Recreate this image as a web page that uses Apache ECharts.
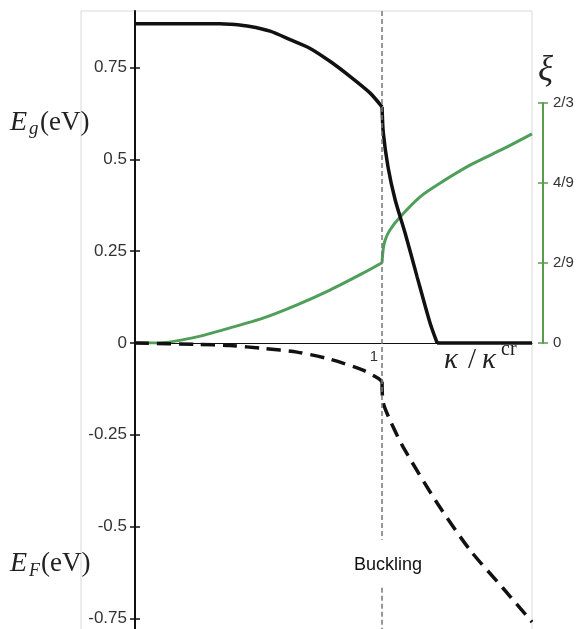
<!DOCTYPE html>
<html>
<head>
<meta charset="utf-8">
<script src="https://cdn.jsdelivr.net/npm/echarts@6/dist/echarts.min.js"></script>
<style>html,body{margin:0;padding:0;background:#fff;}#c{width:582px;height:629px;}</style>
</head>
<body>
<div id="c"></div>
<script>
// ---- data ----
var kappaEg = [0, 0.2, 0.344, 0.385, 0.466, 0.547, 0.628, 0.709, 0.789, 0.870, 0.951, 1.0, 1.005, 1.024, 1.053, 1.093, 1.142, 1.194, 1.223, 1.607];
var eg      = [0.8695, 0.8695, 0.8695, 0.868, 0.862, 0.849, 0.826, 0.802, 0.767, 0.726, 0.681, 0.643, 0.573, 0.480, 0.390, 0.300, 0.180, 0.055, 0, 0];

var kappaEf = [0, 0.251, 0.385, 0.518, 0.656, 0.789, 0.923, 0.984, 1.0, 1.004, 1.032, 1.085, 1.223, 1.356, 1.49, 1.607];
var ef      = [0, -0.004, -0.007, -0.015, -0.025, -0.044, -0.074, -0.096, -0.105, -0.161, -0.21, -0.283, -0.436, -0.564, -0.668, -0.760];

var kappaXi = [0, 0.113, 0.251, 0.385, 0.518, 0.656, 0.789, 0.923, 1.0, 1.004, 1.012, 1.032, 1.073, 1.154, 1.223, 1.356, 1.49, 1.607];
var xi      = [0, 0.001, 0.017, 0.042, 0.069, 0.106, 0.147, 0.194, 0.223, 0.257, 0.285, 0.314, 0.35, 0.406, 0.439, 0.494, 0.539, 0.581];

var leftTicks = [-0.75, -0.5, -0.25, 0, 0.25, 0.5, 0.75];
var xTicks = [1];
var xiTicks = [0, 2/9, 4/9, 2/3];
var xiTickLabels = ['0', '2/9', '4/9', '2/3'];
var bucklingKappa = 1;
var gapClosedKappa = 1.223;

function seg(ks, vs, from, to) {
  var out = [];
  for (var i = 0; i < ks.length; i++) if (ks[i] >= from - 1e-9 && ks[i] <= to + 1e-9) out.push([ks[i], vs[i]]);
  return out;
}

var YMIN = -0.779, YMAX = 0.904, XMIN = 0, XMAX = 1.607;
var GREEN_LINE = '#4f9f5a', GREEN_AXIS = '#5a9a4c';
var SERIF = '"Liberation Serif", "DejaVu Serif", serif';
var SANS = '"Liberation Sans", Arial, sans-serif';
var GRID_W = 582 - 50 - 135;

function lineSeries(data, xi, yi, style, z, extra) {
  var s = {type: 'line', xAxisIndex: xi, yAxisIndex: yi, data: data, showSymbol: false, symbol: 'none',
           smooth: 0.25, lineStyle: style, z: z};
  if (extra) for (var k in extra) s[k] = extra[k];
  return s;
}

var blackSolid = {color: '#111', width: 3.5};
var blackDash = {color: '#111', width: 3.5, type: [14, 8]};
var greenStyle = {color: GREEN_LINE, width: 3};

var chart = echarts.init(document.getElementById('c'), null, {renderer: 'canvas'});
chart.setOption({
  animation: false,
  backgroundColor: '#fff',
  grid: [
    {left: 135, right: 50, top: 11, bottom: 0, containLabel: false, outerBoundsMode: 'none'},
    {left: 135, right: 50, top: 103, height: 240, containLabel: false, outerBoundsMode: 'none'}
  ],
  xAxis: [
    {type: 'value', gridIndex: 0, min: XMIN, max: XMAX, show: false},
    {type: 'value', gridIndex: 1, min: XMIN, max: XMAX, position: 'bottom',
     axisLine: {show: true, onZero: false, lineStyle: {color: '#111', width: 1}},
     axisTick: {show: false}, splitLine: {show: false},
     axisLabel: {show: true, customValues: xTicks, color: '#333', fontFamily: SANS, fontSize: 15,
                 align: 'right', padding: [0, 4, 0, 0], margin: 6}}
  ],
  yAxis: [
    {type: 'value', gridIndex: 0, min: YMIN, max: YMAX, position: 'left',
     axisLine: {show: true, onZero: false, lineStyle: {color: '#111', width: 2}},
     axisTick: {show: true, customValues: leftTicks, length: 5, inside: false, lineStyle: {color: '#111', width: 1.5}},
     axisLabel: {show: true, customValues: leftTicks, color: '#333', fontFamily: SANS, fontSize: 17, margin: 8},
     splitLine: {show: false}},
    {type: 'value', gridIndex: 0, min: YMIN, max: YMAX, position: 'right', offset: -GRID_W,
     axisLine: {show: false, onZero: false},
     axisTick: {show: true, customValues: leftTicks, length: 5, inside: false, lineStyle: {color: '#111', width: 1.5}},
     axisLabel: {show: false}, splitLine: {show: false}},
    {type: 'value', gridIndex: 1, min: 0, max: 2/3, position: 'right', offset: 11,
     axisLine: {show: true, onZero: false, lineStyle: {color: GREEN_AXIS, width: 2}},
     axisTick: {show: true, customValues: xiTicks, length: 5, inside: false, lineStyle: {color: GREEN_AXIS, width: 1.5}},
     axisLabel: {show: true, customValues: xiTicks, color: '#333', fontFamily: SANS, fontSize: 15, margin: 10,
       formatter: function (v) {
         for (var i = 0; i < xiTicks.length; i++) if (Math.abs(v - xiTicks[i]) < 1e-6) return xiTickLabels[i];
         return '';
       }},
     splitLine: {show: false}},
    {type: 'value', gridIndex: 1, min: 0, max: 2/3, position: 'left', offset: -(GRID_W + 11),
     axisLine: {show: false, onZero: false},
     axisTick: {show: true, customValues: xiTicks, length: 5, inside: false, lineStyle: {color: GREEN_AXIS, width: 1.5}},
     axisLabel: {show: false}, splitLine: {show: false}}
  ],
  series: [
    lineSeries(seg(kappaEg, eg, 0, bucklingKappa), 0, 0, blackSolid, 3, {
      markLine: {silent: true, symbol: ['none', 'none'], label: {show: false},
        lineStyle: {color: '#777', type: [5, 3], width: 1.5},
        data: [
          [{coord: [bucklingKappa, YMAX]}, {coord: [bucklingKappa, -0.536]}],
          [{coord: [bucklingKappa, -0.667]}, {coord: [bucklingKappa, YMIN]}]
        ]}}),
    lineSeries(seg(kappaEg, eg, bucklingKappa, gapClosedKappa), 0, 0, blackSolid, 3),
    lineSeries(seg(kappaEg, eg, gapClosedKappa, XMAX), 0, 0, blackSolid, 3),
    lineSeries(seg(kappaEf, ef, 0, bucklingKappa), 0, 0, blackDash, 3),
    lineSeries(seg(kappaEf, ef, bucklingKappa, XMAX), 0, 0, blackDash, 3),
    lineSeries(seg(kappaXi, xi, 0, bucklingKappa), 1, 2, greenStyle, 2),
    lineSeries(seg(kappaXi, xi, bucklingKappa, XMAX), 1, 2, greenStyle, 2)
  ],
  graphic: [
    {type: 'rect', z: -10, shape: {x: 81, y: 11, width: 451, height: 640},
     style: {fill: 'none', stroke: '#d9d9d9', lineWidth: 1}},
    // E_g(eV)
    {type: 'text', x: 10, y: 123, style: {text: 'E', font: 'italic 28px ' + SERIF, fill: '#222', verticalAlign: 'middle'}},
    {type: 'text', x: 29, y: 129, style: {text: 'g', font: 'italic 19px ' + SERIF, fill: '#222', verticalAlign: 'middle'}},
    {type: 'text', x: 40, y: 123, style: {text: '(eV)', font: '27px ' + SERIF, fill: '#222', verticalAlign: 'middle'}},
    // E_F(eV)
    {type: 'text', x: 10, y: 564, style: {text: 'E', font: 'italic 28px ' + SERIF, fill: '#222', verticalAlign: 'middle'}},
    {type: 'text', x: 29, y: 571, style: {text: 'F', font: 'italic 18px ' + SERIF, fill: '#222', verticalAlign: 'middle'}},
    {type: 'text', x: 41, y: 564, style: {text: '(eV)', font: '27px ' + SERIF, fill: '#222', verticalAlign: 'middle'}},
    // xi
    {type: 'text', x: 538, y: 71, style: {text: 'ξ', font: 'italic 35px ' + SERIF, fill: '#222', verticalAlign: 'middle'}},
    // kappa / kappa^cr
    {type: 'text', x: 444, y: 360, style: {text: 'κ', font: 'italic 29px ' + SERIF, fill: '#222', verticalAlign: 'middle'}},
    {type: 'text', x: 468, y: 360, style: {text: '/', font: '29px ' + SERIF, fill: '#222', verticalAlign: 'middle'}},
    {type: 'text', x: 482, y: 360, style: {text: 'κ', font: 'italic 29px ' + SERIF, fill: '#222', verticalAlign: 'middle'}},
    {type: 'text', x: 501, y: 350, style: {text: 'cr', font: '20px ' + SERIF, fill: '#222', verticalAlign: 'middle'}},
    // Buckling
    {type: 'text', x: 388, y: 565, style: {text: 'Buckling', font: '18px ' + SANS, fill: '#111', align: 'center', verticalAlign: 'middle'}}
  ]
});
</script>
</body>
</html>
